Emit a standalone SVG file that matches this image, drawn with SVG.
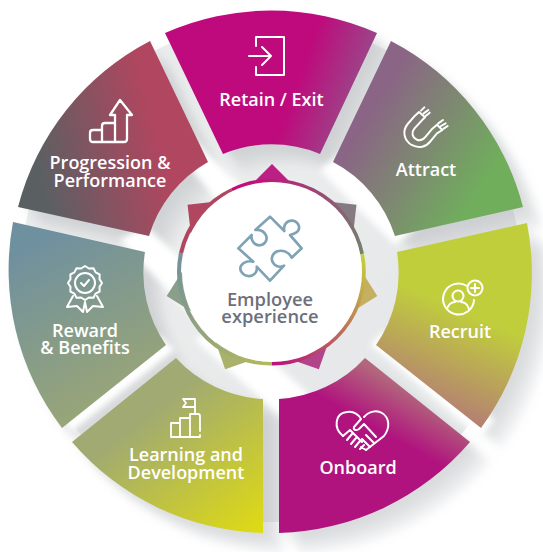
<svg xmlns="http://www.w3.org/2000/svg" xmlns:xlink="http://www.w3.org/1999/xlink" width="543" height="552" viewBox="0 0 543 552">
<style>
.lbl{font-family:"Open Sans","Liberation Sans",sans-serif;font-weight:600;font-size:18px;fill:#fff;text-anchor:middle}
.ctr{font-family:"Open Sans","Liberation Sans",sans-serif;font-weight:600;font-size:18.300px;fill:#6d6f7d;text-anchor:middle}
.ic{fill:none;stroke:#fff;stroke-linecap:round;stroke-linejoin:round}
.z3{stroke-width:6}
</style>
<defs>
<linearGradient id="gR" gradientUnits="userSpaceOnUse" x1="298" y1="80" x2="368" y2="105"><stop offset="0" stop-color="#be0a7c"/><stop offset="1" stop-color="#93548b"/></linearGradient>
<linearGradient id="gA" gradientUnits="userSpaceOnUse" x1="365" y1="120" x2="480" y2="190"><stop offset="0" stop-color="#8a6585"/><stop offset="1" stop-color="#70ae5c"/></linearGradient>
<linearGradient id="gC" gradientUnits="userSpaceOnUse" x1="465" y1="312" x2="425" y2="405"><stop offset="0" stop-color="#c0ce3c"/><stop offset="1" stop-color="#b47e74"/></linearGradient>
<linearGradient id="gO" gradientUnits="userSpaceOnUse" x1="365" y1="422" x2="390" y2="378"><stop offset="0" stop-color="#b0137e"/><stop offset="1" stop-color="#b2687c"/></linearGradient>
<linearGradient id="gL" gradientUnits="userSpaceOnUse" x1="265" y1="530" x2="165" y2="400"><stop offset="0" stop-color="#dfdb12"/><stop offset="1" stop-color="#a0aa72"/></linearGradient>
<linearGradient id="gB" gradientUnits="userSpaceOnUse" x1="40" y1="240" x2="125" y2="400"><stop offset="0" stop-color="#6f909f"/><stop offset="1" stop-color="#9aa676"/></linearGradient>
<linearGradient id="gP" gradientUnits="userSpaceOnUse" x1="45" y1="200" x2="165" y2="170"><stop offset="0" stop-color="#5a6062"/><stop offset="1" stop-color="#b0465f"/></linearGradient>
<linearGradient id="r1" gradientUnits="userSpaceOnUse" x1="240" y1="190" x2="362" y2="250"><stop offset="0" stop-color="#c40a7c"/><stop offset="1" stop-color="#75806f"/></linearGradient>
<linearGradient id="r2" gradientUnits="userSpaceOnUse" x1="362" y1="255" x2="272" y2="362"><stop offset="0" stop-color="#c4d03a"/><stop offset="1" stop-color="#b8127e"/></linearGradient>
<linearGradient id="r3" gradientUnits="userSpaceOnUse" x1="272" y1="362" x2="182" y2="260"><stop offset="0" stop-color="#b3b85c"/><stop offset="1" stop-color="#74929a"/></linearGradient>
<linearGradient id="disc" gradientUnits="userSpaceOnUse" x1="190" y1="190" x2="350" y2="350"><stop offset="0" stop-color="#eceeee"/><stop offset="1" stop-color="#e6e8e9"/></linearGradient>
<filter id="bl" x="-30%" y="-30%" width="160%" height="160%"><feGaussianBlur stdDeviation="3"/></filter>
<filter id="bl2" x="-20%" y="-20%" width="140%" height="140%"><feGaussianBlur stdDeviation="5"/></filter>
<path id="w1" d="M165,33A261,261 0 0 1 377,33L320,154A127,127 0 0 0 223,154Z"/>
<path id="w2" d="M391,41A261,261 0 0 1 523,207L395,236A127,127 0 0 0 333,162Z"/>
<path id="w3" d="M527,223A261,261 0 0 1 481,428L376,345A127,127 0 0 0 397,252Z"/>
<path id="w4" d="M470,442A261,261 0 0 1 279,533L279,399A127,127 0 0 0 365,358Z"/>
<path id="w5" d="M263,533A261,261 0 0 1 72,442L176,358A127,127 0 0 0 263,399Z"/>
<path id="w6" d="M62,428A261,261 0 0 1 13,222L145,252A127,127 0 0 0 166,345Z"/>
<path id="w7" d="M18,207A261,261 0 0 1 150,41L208,162A127,127 0 0 0 149,236Z"/>
<polygon id="sp" points="-22,-86 0,-108 22,-86"/>
<g id="wAll"><use xlink:href="#w1"/><use xlink:href="#w2"/><use xlink:href="#w3"/><use xlink:href="#w4"/><use xlink:href="#w5"/><use xlink:href="#w6"/><use xlink:href="#w7"/></g>
</defs>
<rect width="543" height="552" fill="#fff"/>
<g id="backdrop">
<circle cx="271" cy="272" r="250" fill="url(#disc)"/>
<g filter="url(#bl2)" fill="#aeb4b7" fill-opacity=".2">
<use xlink:href="#wAll" x="6" y="6"/>
<use xlink:href="#wAll" x="13" y="13"/>
<use xlink:href="#wAll" x="20" y="20"/>
</g>
<g filter="url(#bl)" fill="#fff">
<polygon points="155,125 172,118 270,215 245,235"/>
<polygon points="120,240 145,225 240,315 215,340"/>
<polygon points="195,340 225,320 310,395 285,420"/>
<polygon points="320,170 345,150 420,225 395,245"/>
<polygon points="370,345 385,330 495,420 480,438"/>
<polygon points="175,350 160,335 60,415 72,432"/>
</g>
</g>
<g id="connectors"></g>
<g id="hub-star">
<g transform="translate(272,272)">
<use xlink:href="#sp" fill="#bd2085"/>
<use xlink:href="#sp" transform="rotate(51.43)" fill="#857a80"/>
<use xlink:href="#sp" transform="rotate(102.86)" fill="#c4b060"/>
<use xlink:href="#sp" transform="rotate(154.29)" fill="#b2448a"/>
<use xlink:href="#sp" transform="rotate(205.71)" fill="#a9b16b"/>
<use xlink:href="#sp" transform="rotate(257.14)" fill="#8a9e8a"/>
<use xlink:href="#sp" transform="rotate(308.57)" fill="#b0465f"/>
</g>
<path d="M232,190A91.500,91.500 0 0 1 362,254" fill="none" stroke="url(#r1)" stroke-width="4"/>
<path d="M362,254A91.500,91.500 0 0 1 272,363.500" fill="none" stroke="url(#r2)" stroke-width="4"/>
<path d="M272,363.500A91.500,91.500 0 0 1 181,253" fill="none" stroke="url(#r3)" stroke-width="4"/>
<path d="M181,253A91.500,91.500 0 0 1 232,190" fill="none" stroke="#b0465f" stroke-width="4"/>
</g>
<g id="node-retain">
<use xlink:href="#w1" fill="url(#gR)"/>
<g class="ic" stroke-width="2"><path d="M256,46V37H284V75H256V67"/><path d="M249,56H271M262,47L271,56L262,65"/></g>
<text class="lbl" x="271.500" y="106">Retain / Exit</text>
</g>
<g id="node-attract">
<use xlink:href="#w2" fill="url(#gA)"/>
<g class="ic z3" transform="translate(395,100) scale(.3333)"><path d="M60,47L38,72C20,94 28,122 50,135C72,147 94,140 106,124L126,100M80,62L58,86C48,98 52,112 64,118C74,124 84,120 92,110L112,86M60,47L72,36L90,52L80,62M112,86L126,74L142,90L126,100M78,32L88,22M86,40L100,30M92,48L104,38M130,70L144,60M138,78L152,70M146,86L158,78"/></g>
<text class="lbl" x="426" y="176">Attract</text>
</g>
<g id="node-recruit">
<use xlink:href="#w3" fill="url(#gC)"/>
<g class="ic" stroke-width="2"><path d="M467,286A15.500,15.500 0 1 0 474,300"/><circle cx="475" cy="288" r="7.500"/><path d="M475,284V292M471,288H479"/><circle cx="458" cy="296" r="5.500"/><path d="M447,309C449,303 453,302 455,302M469,309C467,303 463,302 461,302"/></g>
<text class="lbl" x="460" y="338">Recruit</text>
</g>
<g id="node-onboard">
<use xlink:href="#w4" fill="url(#gO)"/>
<g class="ic" stroke-width="2"><path d="M343,436C333,428 335,413 347,412C354,411 358,414 361,419L354,427C353,430 356,431 359,429L364,424L376,437M364,417C369,411 377,410 382,413C390,418 390,428 384,436L366,450"/><path d="M343,436L350,430L362,442M347,440L352,434M351,444L356,438M355,447L360,441M360,449L364,445M366,450L361,447M370,447L362,439M374,443L366,435"/></g>
<text class="lbl" x="358" y="474">Onboard</text>
</g>
<g id="node-learning">
<use xlink:href="#w5" fill="url(#gL)"/>
<g class="ic" stroke-width="1.800"><path d="M171,437V423H180V437ZM180,437V418H190V437M171,437H200M190,418V414H198C199,414 200,415 200,416V431M200,435V437"/><path d="M195,414V399H183L186,403L183,407H195"/></g>
<text class="lbl" x="186" y="461">Learning and</text>
<text class="lbl" x="186" y="479">Development</text>
</g>
<g id="node-reward">
<use xlink:href="#w6" fill="url(#gB)"/>
<g class="ic" stroke-width="2"><path d="M102,283L99.500,286.900L99.700,291.500L95.600,293.600L93.500,297.700L88.900,297.500L85,300L81.100,297.500L76.500,297.700L74.400,293.600L70.300,291.500L70.500,286.900L68,283L70.500,279.100L70.300,274.500L74.400,272.400L76.500,268.300L81.100,268.500L85,266L88.900,268.500L93.500,268.300L95.600,272.400L99.700,274.500L99.500,279.100Z"/><circle cx="85" cy="283" r="10"/><path d="M81,283L84,286L89,280"/><path d="M73,296L67,307L77,306L83,312L85,302L87,312L93,306L103,307L97,296"/></g>
<text class="lbl" x="85" y="337">Reward</text>
<text class="lbl" x="85" y="354">&amp; Benefits</text>
</g>
<g id="node-progression">
<use xlink:href="#w7" fill="url(#gP)"/>
<g class="ic" stroke-width="2.300"><path d="M102,130H93Q90,130 90,133V139Q90,142 93,142H124Q127,142 127,139V115H132L120,100L110,115H115V142M102,130V142M102,130V126Q102,123 105,123H115"/></g>
<text class="lbl" x="110" y="169">Progression &amp;</text>
<text class="lbl" x="110" y="187">Performance</text>
</g>
<g id="node-hub">
<circle cx="272" cy="272" r="90" fill="#fff"/>
<path transform="translate(230,210) scale(.3333)" fill="none" stroke="#7fa3b4" stroke-width="8" stroke-linejoin="round" stroke-linecap="round" d="M120,20L163,63C158,45 172,30 188,32C208,36 214,58 198,68C192,72 186,74 180,75L215,115L185,143C178,128 160,118 142,124C124,132 120,152 134,164C142,171 152,172 162,167L120,212L80,170C84,186 70,200 54,198C36,196 26,178 34,166C42,156 56,152 70,155L25,115L65,75C62,90 72,106 88,106C104,106 114,90 108,76C102,64 90,58 76,60Z"/>
<text class="ctr" x="270" y="306">Employee</text>
<text class="ctr" x="270" y="323">experience</text>
</g>
</svg>
